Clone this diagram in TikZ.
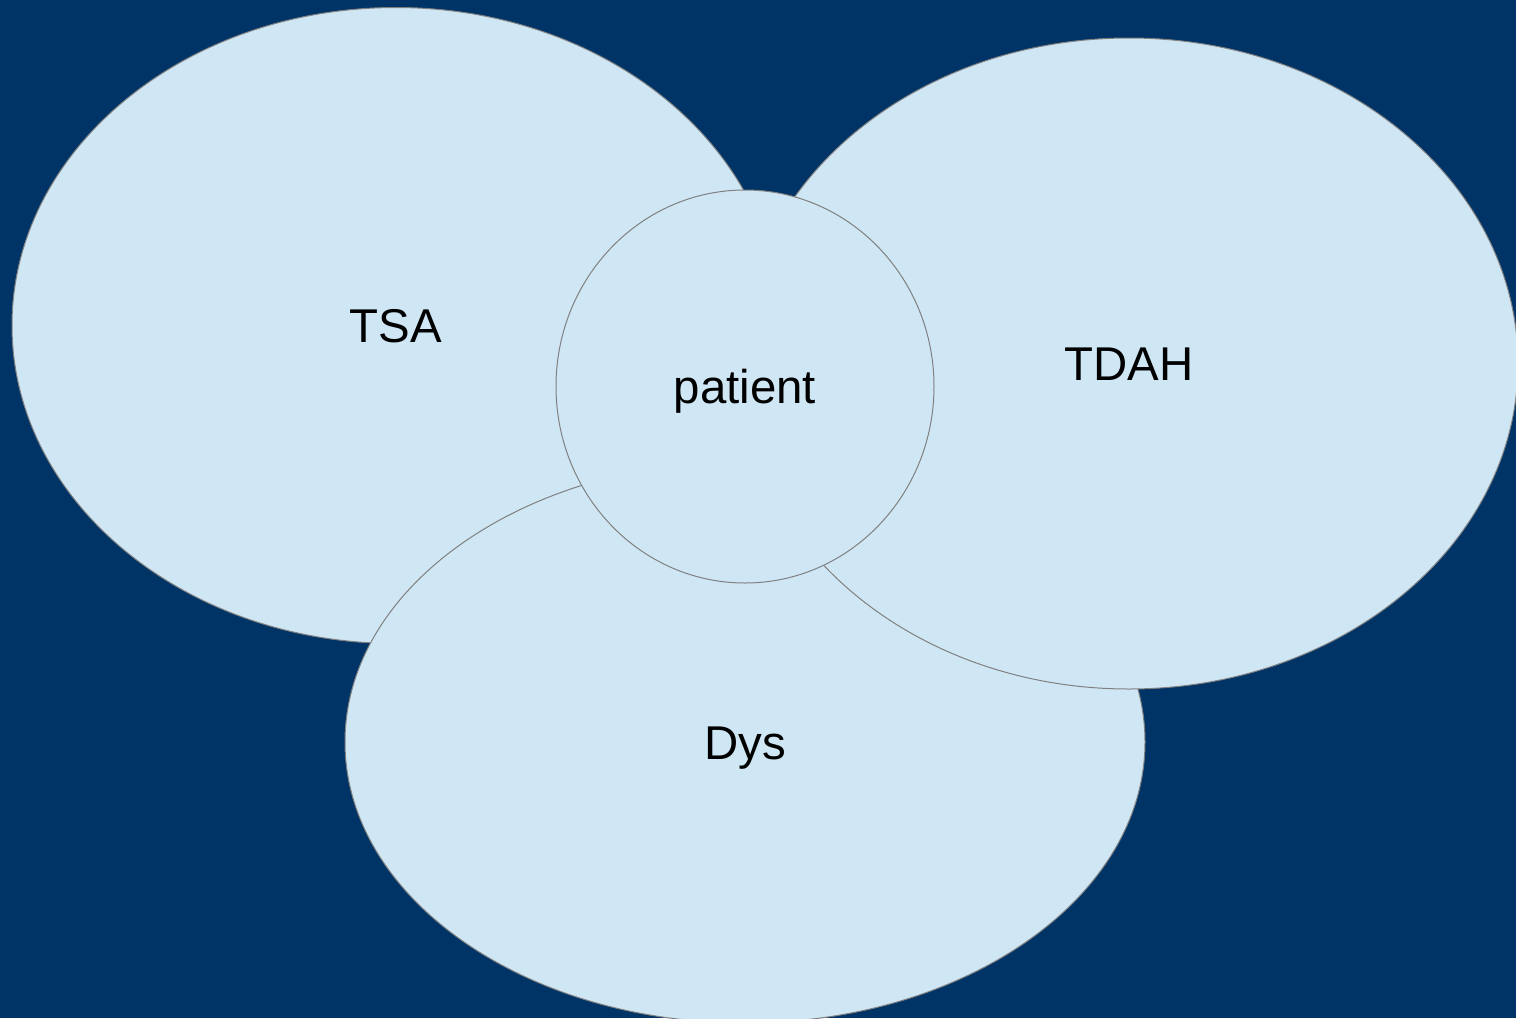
\documentclass[tikz,border=0pt]{standalone}
\usepackage{fontspec}
\setmainfont{Liberation Sans}
\usetikzlibrary{shapes.geometric}

\definecolor{navy}{RGB}{0,51,102}
\definecolor{pale}{RGB}{207,230,244}
\definecolor{rim}{RGB}{128,128,128}

\begin{document}
\begin{tikzpicture}[x=0.5pt,y=-0.5pt]

		\tikzstyle{blob}=[ellipse,fill=pale,draw=rim,line width=0.5pt,inner sep=0pt,outer sep=0pt,
			font=\fontsize{23.7}{28}\selectfont,text=black,text height=17pt,text depth=0pt]
		
		% page and backdrop
		\useasboundingbox (0,0) rectangle (1516,1018);
		\fill[navy] (0,0) rectangle (1516,1018);
		\clip (0,0) rectangle (1516,1018);
		
		% the three groups, then the patient on top
		\node[blob,minimum width=384pt,minimum height=318pt] (tsa) at (396,325.5) {TSA};
		\node[blob,minimum width=400pt,minimum height=281pt] (dys) at (745,742) {Dys};
		\node[blob,minimum width=389pt,minimum height=325.5pt] (tdah) at (1129,363.5) {TDAH};
		\node[blob,minimum width=189pt,minimum height=196.5pt] (patient) at (745,386.5) {patient};
		
\end{tikzpicture}
\end{document}
